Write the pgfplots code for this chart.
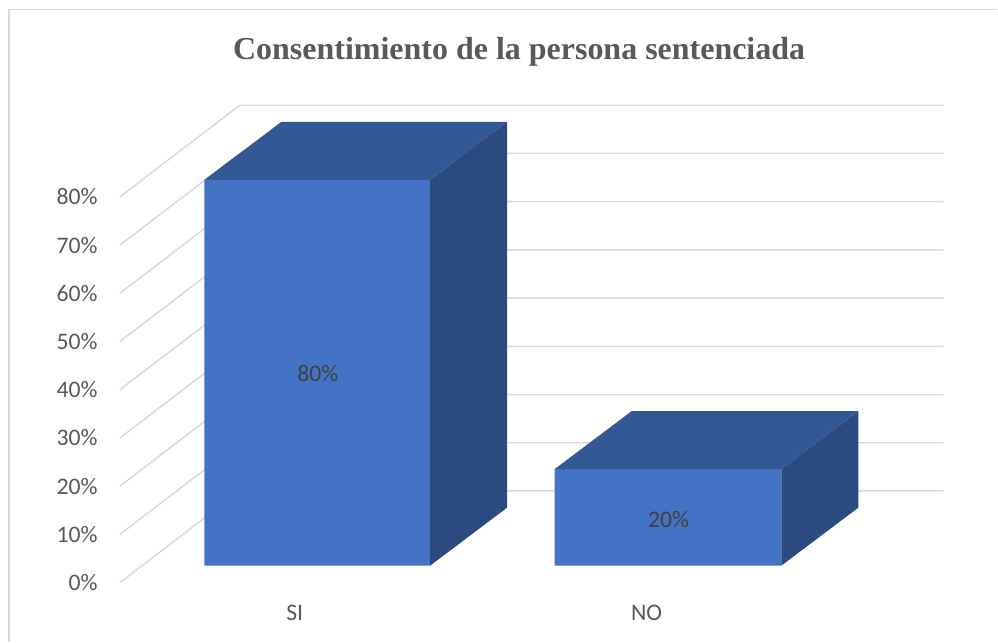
\documentclass[border=0pt]{standalone}
\usepackage{pgfplots}
\pgfplotsset{compat=1.18}
\usepackage{fontspec}
\setmainfont{Liberation Serif}
\newfontfamily\carlito{Carlito}
\definecolor{front}{RGB}{68,114,196}
\definecolor{topc}{RGB}{51,88,150}
\definecolor{sidec}{RGB}{43,74,128}
\definecolor{gridc}{RGB}{217,217,217}
\definecolor{txt}{RGB}{89,89,89}
\definecolor{dlab}{RGB}{64,64,64}
\newcommand{\lblfont}{\carlito\fontsize{17.8pt}{21pt}\selectfont}
\newcommand{\ttlfont}{\bfseries\fontsize{24pt}{28pt}\selectfont}
\tikzset{tl/.style={anchor=east, text=txt, font=\lblfont, inner sep=0pt}}
\begin{document}
\begin{tikzpicture}
\begin{axis}[
  scale only axis, width=748.5pt, height=481.5pt,
  xmin=0, xmax=998, ymin=-15.75, ymax=117.31,
  axis lines=none, ticks=none, clip=false,
]
% full picture area (bounding box)
\path (axis cs:0,-15.75) rectangle (axis cs:998,117.31);
% frame (left and top)
\addplot[gridc, line width=1.1pt] coordinates {(9,-15.75) (9,115.34) (998,115.34)};
% gridlines: front of side wall -> back wall
\addplot[gridc, line width=1.1pt] coordinates {(120,-3.52) (240,15.48) (944,15.48)};
\addplot[gridc, line width=1.1pt] coordinates {(120,6.48) (240,25.48) (944,25.48)};
\addplot[gridc, line width=1.1pt] coordinates {(120,16.48) (240,35.48) (944,35.48)};
\addplot[gridc, line width=1.1pt] coordinates {(120,26.48) (240,45.48) (944,45.48)};
\addplot[gridc, line width=1.1pt] coordinates {(120,36.48) (240,55.48) (944,55.48)};
\addplot[gridc, line width=1.1pt] coordinates {(120,46.48) (240,65.48) (944,65.48)};
\addplot[gridc, line width=1.1pt] coordinates {(120,56.48) (240,75.48) (944,75.48)};
\addplot[gridc, line width=1.1pt] coordinates {(120,66.48) (240,85.48) (944,85.48)};
\addplot[gridc, line width=1.1pt] coordinates {(120,76.48) (240,95.48) (944,95.48)};
% tick labels
\node[tl] at (axis cs:98,-3.52) {0\%};
\node[tl] at (axis cs:98,6.48) {10\%};
\node[tl] at (axis cs:98,16.48) {20\%};
\node[tl] at (axis cs:98,26.48) {30\%};
\node[tl] at (axis cs:98,36.48) {40\%};
\node[tl] at (axis cs:98,46.48) {50\%};
\node[tl] at (axis cs:98,56.48) {60\%};
\node[tl] at (axis cs:98,66.48) {70\%};
\node[tl] at (axis cs:98,76.48) {80\%};
% bar SI (80%)
\addplot[fill=front, draw=none] coordinates {(204.5,0) (430.5,0) (430.5,80) (204.5,80) (204.5,0)};
\addplot[fill=topc, draw=none] coordinates {(204.5,80) (430.5,80) (507.5,92.02) (281.5,92.02) (204.5,80)};
\addplot[fill=sidec, draw=none] coordinates {(430.5,0) (507.5,12.02) (507.5,92.02) (430.5,80) (430.5,0)};
% bar NO (20%)
\addplot[fill=front, draw=none] coordinates {(555,0) (782,0) (782,20) (555,20) (555,0)};
\addplot[fill=topc, draw=none] coordinates {(555,20) (782,20) (859,32.02) (632,32.02) (555,20)};
\addplot[fill=sidec, draw=none] coordinates {(782,0) (859,12.02) (859,32.02) (782,20) (782,0)};
% data labels
\node[text=dlab, font=\lblfont] at (axis cs:318,39.8) {80\%};
\node[text=dlab, font=\lblfont] at (axis cs:669,9.6) {20\%};
% category labels
\node[text=txt, font=\lblfont, anchor=base] at (axis cs:295,-11.40) {SI};
\node[text=txt, font=\lblfont, anchor=base] at (axis cs:647,-11.40) {NO};
% title
\node[text=txt, font=\ttlfont, anchor=base] at (axis cs:519.5,104.87) {Consentimiento de la persona sentenciada};
\end{axis}
\end{tikzpicture}
\end{document}
